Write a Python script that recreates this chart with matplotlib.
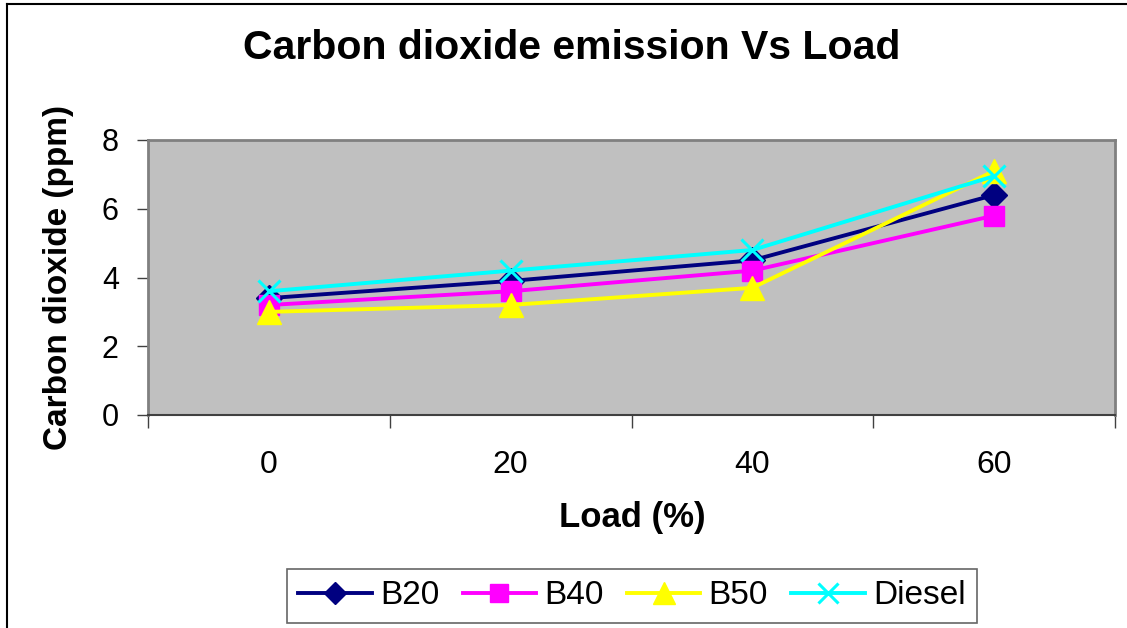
import matplotlib
matplotlib.use("Agg")
import matplotlib.pyplot as plt
from matplotlib.lines import Line2D

plt.rcParams['font.family'] = ['Liberation Sans', 'DejaVu Sans']

loads = ["0", "20", "40", "60"]
b20 = [3.4, 3.9, 4.5, 6.4]
b40 = [3.2, 3.6, 4.2, 5.8]
b50 = [3.0, 3.2, 3.7, 7.1]
diesel = [3.6, 4.2, 4.8, 6.95]

series = [
    ("B20", b20, "#000080", "D", 13),
    ("B40", b40, "#FF00FF", "s", 15),
    ("B50", b50, "#FFFF00", "^", 17),
    ("Diesel", diesel, "#00FFFF", "x", 16),
]

fig = plt.figure(figsize=(11.27, 6.28), dpi=100)
ax = fig.add_axes([148 / 1127, 1 - 415 / 628, (1115 - 148) / 1127, (415 - 140) / 628])
ax.set_facecolor("#C0C0C0")

xs = range(len(loads))
for name, vals, col, mk, ms in series:
    ax.plot(xs, vals, color=col, lw=2.8, marker=mk, ms=ms, mew=2.2 if mk == "x" else 1,
            mec=col, mfc=col, label=name, clip_on=False)

ax.set_xlim(-0.5, len(loads) - 0.5)
ax.set_ylim(0, 8)
ax.set_yticks([0, 2, 4, 6, 8])
ax.tick_params(axis="y", direction="out", length=8, width=1, color="#404040",
               labelsize=22, pad=13)

# category labels between boundary ticks
ax.set_xticks([i - 0.5 for i in range(len(loads) + 1)])
ax.set_xticklabels([])
ax.set_xticks(list(xs), minor=True)
ax.set_xticklabels(loads, minor=True)
ax.tick_params(axis="x", which="major", direction="out", length=9, width=1, color="#404040")
ax.tick_params(axis="x", which="minor", length=0, labelsize=23, pad=25)

for side in ["top", "right", "left"]:
    ax.spines[side].set_color("#808080")
    ax.spines[side].set_linewidth(2)
ax.spines["bottom"].set_color("#404040")
ax.spines["bottom"].set_linewidth(1.5)

fig.text(572 / 1127, 1 - 48 / 628, "Carbon dioxide emission Vs Load", ha="center", va="center",
         fontsize=29.5, fontweight="bold")
fig.text(59 / 1127, 1 - 278 / 628, "Carbon dioxide (ppm)", ha="center", va="center",
         rotation=90, fontsize=24, fontweight="bold")
fig.text(632 / 1127, 1 - 517 / 628, "Load (%)", ha="center", va="center",
         fontsize=25, fontweight="bold")

leg = fig.legend(loc="center", bbox_to_anchor=(632 / 1127, 1 - 596 / 628), ncol=4,
                 fontsize=24, frameon=True, fancybox=False, edgecolor="#404040",
                 handlelength=2.2, handletextpad=0.25, columnspacing=0.7,
                 borderpad=0.35, borderaxespad=0, markerscale=0.9)
leg.get_frame().set_linewidth(1.2)

# outer chart border (left and top visible)
fig.add_artist(Line2D([7 / 1127, 7 / 1127], [0, 1 - 4 / 628], color="black", lw=1.5))
fig.add_artist(Line2D([7 / 1127, 1], [1 - 4 / 628, 1 - 4 / 628], color="black", lw=1.5))

fig.savefig("out.png", dpi=100)
